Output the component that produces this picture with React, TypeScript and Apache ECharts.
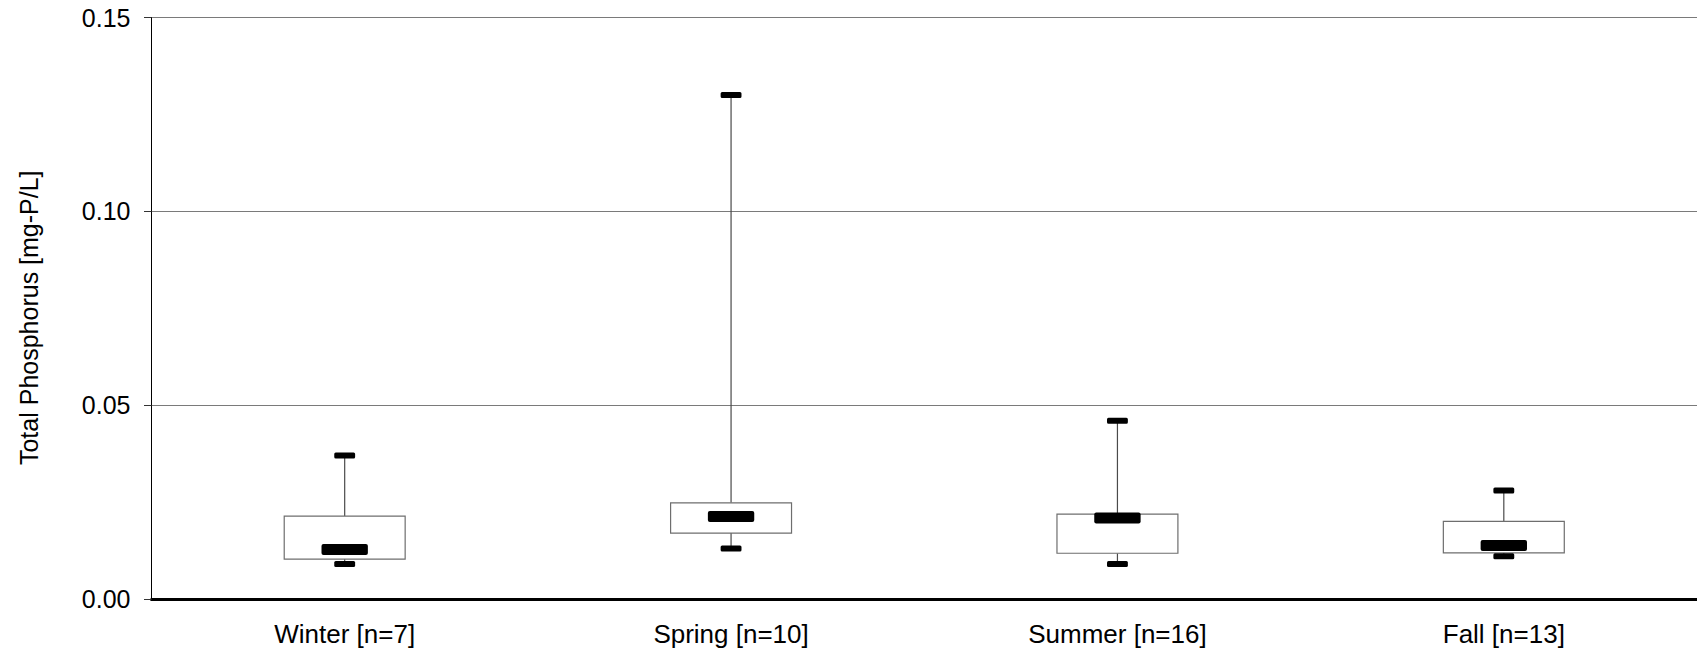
import React, { useEffect, useRef } from "react";
import * as echarts from "echarts";

const categories = ["Winter [n=7]", "Spring [n=10]", "Summer [n=16]", "Fall [n=13]"];
const minValues = [0.009, 0.013, 0.009, 0.011];
const q1Values = [0.0103, 0.017, 0.0118, 0.0119];
const medianValues = [0.0128, 0.0213, 0.0209, 0.0138];
const q3Values = [0.0214, 0.0248, 0.0219, 0.02];
const maxValues = [0.037, 0.13, 0.046, 0.028];
const yTicks = [0, 0.05, 0.1, 0.15];
const yAxisTitle = "Total Phosphorus [mg-P/L]";

const FONT = "Arial, 'Liberation Sans', sans-serif";

export default function App() {
  const ref = useRef<HTMLDivElement>(null);

  useEffect(() => {
    if (!ref.current) return;
    const chart = echarts.init(ref.current, null, { renderer: "svg" });
    const data = categories.map((_, i) => [
      i,
      minValues[i],
      q1Values[i],
      medianValues[i],
      q3Values[i],
      maxValues[i],
    ]);

    const renderItem = (params: any, api: any) => {
      const i = api.value(0);
      const band = api.size([1, 0])[0];
      const pMin = api.coord([i, api.value(1)]);
      const pQ1 = api.coord([i, api.value(2)]);
      const pMed = api.coord([i, api.value(3)]);
      const pQ3 = api.coord([i, api.value(4)]);
      const pMax = api.coord([i, api.value(5)]);
      const x = pMed[0];
      const boxW = band * 0.313;
      const medW = band * 0.12;
      const capW = band * 0.054;
      const medH = 11;
      const capH = 6;
      return {
        type: "group",
        children: [
          {
            type: "line",
            shape: { x1: x, y1: pQ3[1], x2: x, y2: pMax[1] },
            style: { stroke: "#4a4a4a", lineWidth: 1.2 },
          },
          {
            type: "line",
            shape: { x1: x, y1: pQ1[1], x2: x, y2: pMin[1] },
            style: { stroke: "#4a4a4a", lineWidth: 1.2 },
          },
          {
            type: "rect",
            shape: { x: x - boxW / 2, y: pQ3[1], width: boxW, height: pQ1[1] - pQ3[1] },
            style: { fill: "#ffffff", stroke: "#6e6e6e", lineWidth: 1.2 },
          },
          {
            type: "rect",
            shape: { x: x - medW / 2, y: pMed[1] - medH / 2, width: medW, height: medH, r: 2 },
            style: { fill: "#000000" },
          },
          {
            type: "rect",
            shape: { x: x - capW / 2, y: pMax[1] - capH / 2, width: capW, height: capH, r: 1.5 },
            style: { fill: "#000000" },
          },
          {
            type: "rect",
            shape: { x: x - capW / 2, y: pMin[1] - capH / 2, width: capW, height: capH, r: 1.5 },
            style: { fill: "#000000" },
          },
        ],
      };
    };

    chart.setOption({
      animation: false,
      backgroundColor: "#ffffff",
      grid: { left: 151.5, right: -9.3, top: 17.5, bottom: 53, containLabel: false },
      xAxis: {
        type: "category",
        data: categories,
        boundaryGap: true,
        axisLine: { show: true, onZero: false, lineStyle: { color: "#000000", width: 3 } },
        axisTick: { show: false },
        splitLine: { show: false },
        axisLabel: {
          color: "#000000",
          fontSize: 26,
          fontFamily: FONT,
          margin: 22,
          interval: 0,
        },
      },
      yAxis: {
        type: "value",
        min: yTicks[0],
        max: yTicks[yTicks.length - 1],
        interval: 0.05,
        name: yAxisTitle,
        nameLocation: "middle",
        nameGap: 110,
        nameTextStyle: {
          color: "#000000",
          fontSize: 25,
          fontFamily: FONT,
          padding: [0, 19, 0, 0],
        },
        axisLine: { show: true, lineStyle: { color: "#000000", width: 1 } },
        axisTick: { show: true, length: 7.5, lineStyle: { color: "#333333", width: 1 } },
        splitLine: { show: true, lineStyle: { color: "#7a7a7a", width: 1 } },
        axisLabel: {
          color: "#000000",
          fontSize: 25,
          fontFamily: FONT,
          margin: 21,
          formatter: (v: number) => v.toFixed(2),
        },
      },
      series: [
        {
          type: "custom",
          renderItem,
          data,
          encode: { x: 0, y: [1, 2, 3, 4, 5] },
          clip: false,
        },
      ],
    });

    return () => chart.dispose();
  }, []);

  return (
    <div
      ref={ref}
      style={{ position: "fixed", left: 0, top: 0, width: 1697, height: 652 }}
    />
  );
}
